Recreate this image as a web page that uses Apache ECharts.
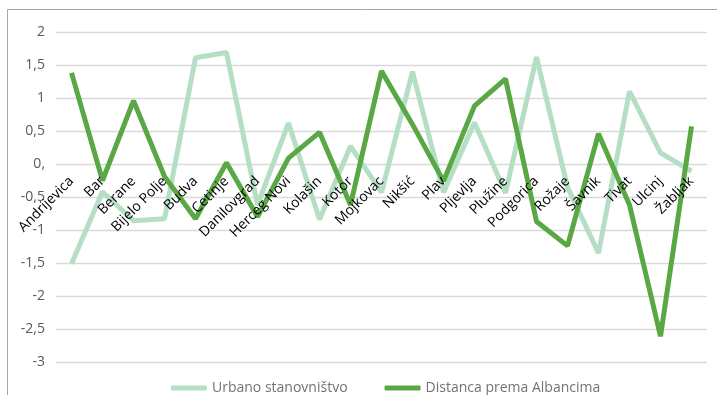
<!DOCTYPE html>
<html>
<head>
<meta charset="utf-8">
<script src="https://cdn.jsdelivr.net/npm/echarts@6/dist/echarts.min.js"></script>
<style>
html,body{margin:0;padding:0;background:#fff;}
#c{width:717px;height:395px;}
</style>
</head>
<body>
<div id="c"></div>
<script>
const categories = ['Andrijevica','Bar','Berane','Bijelo Polje','Budva','Cetinje','Danilovgrad','Herceg Novi','Kolašin','Kotor','Mojkovac','Nikšić','Plav','Pljevlja','Plužine','Podgorica','Rožaje','Šavnik','Tivat','Ulcinj','Žabljak'];
const urbanoStanovnistvo = [-1.51,-0.42,-0.86,-0.83,1.61,1.69,-0.62,0.62,-0.84,0.27,-0.43,1.40,-0.43,0.63,-0.44,1.62,-0.35,-1.35,1.10,0.17,-0.11];
const distancaPremaAlbancima = [1.38,-0.25,0.96,-0.19,-0.83,0.02,-0.80,0.09,0.48,-0.62,1.41,0.60,-0.26,0.88,1.29,-0.87,-1.24,0.46,-0.62,-2.61,0.57];
const seriesNames = ['Urbano stanovništvo','Distanca prema Albancima'];
const yTickLabels = {'2':'2','1.5':'1,5','1':'1','0.5':'0,5','0':'0,','-0.5':'-0,5','-1':'-1','-1.5':'-1,5','-2':'-2','-2.5':'-2,5','-3':'-3'};
const yMin = -3, yMax = 2;

const chart = echarts.init(document.getElementById('c'), null, {renderer:'canvas'});
const font = 'Open Sans';
const gridTop = 32, gridBottom = 33, H = 395;
const plotH = H - gridTop - gridBottom;
// second (label-only) grid ends exactly at the zero line of the value axis
const zeroOffset = plotH * (yMax - 0) / (yMax - yMin);
chart.setOption({
  animation:false,
  graphic:[{type:'rect',shape:{x:7.5,y:9.5,width:720,height:400},style:{fill:'none',stroke:'#a6a6a6',lineWidth:1},silent:true,z:-1}],
  grid:[
    {left:56,right:10,top:gridTop,bottom:gridBottom,containLabel:false,outerBoundsMode:'none'},
    {left:56,right:10,top:gridTop,height:zeroOffset,containLabel:false,outerBoundsMode:'none'}
  ],
  legend:{
    left:171, top:381, padding:0, itemWidth:36, itemHeight:5, itemGap:37, icon:'roundRect',
    textStyle:{color:'#767171',fontSize:14,fontFamily:font},
    data:seriesNames
  },
  xAxis:[{
    gridIndex:0, type:'category', data:categories, boundaryGap:true,
    axisLine:{show:false}, axisTick:{show:false}, axisLabel:{show:false}
  },{
    gridIndex:1, type:'category', data:categories, boundaryGap:true, position:'bottom', z:10,
    axisLine:{show:false}, axisTick:{show:false}, splitLine:{show:false},
    axisLabel:{rotate:45,interval:0,margin:15,color:'#000',fontSize:14,fontFamily:font}
  }],
  yAxis:[{
    gridIndex:0, type:'value', min:yMin, max:yMax, interval:0.5,
    axisLine:{show:false}, axisTick:{show:false},
    splitLine:{lineStyle:{color:'#d9d9d9',width:1.3}},
    axisLabel:{color:'#595959',fontSize:14,fontFamily:font,margin:11,
      formatter:v=>yTickLabels[String(Math.round(v*10)/10)] ?? String(v)}
  },{
    gridIndex:1, type:'value', min:0, max:1, show:false
  }],
  series:[
    {name:seriesNames[0],type:'line',data:urbanoStanovnistvo,symbol:'none',lineStyle:{width:5,color:'#b5dfc4'},itemStyle:{color:'#b5dfc4'}},
    {name:seriesNames[1],type:'line',data:distancaPremaAlbancima,symbol:'none',lineStyle:{width:5,color:'#5aa845'},itemStyle:{color:'#5aa845'}}
  ]
});
</script>
</body>
</html>
